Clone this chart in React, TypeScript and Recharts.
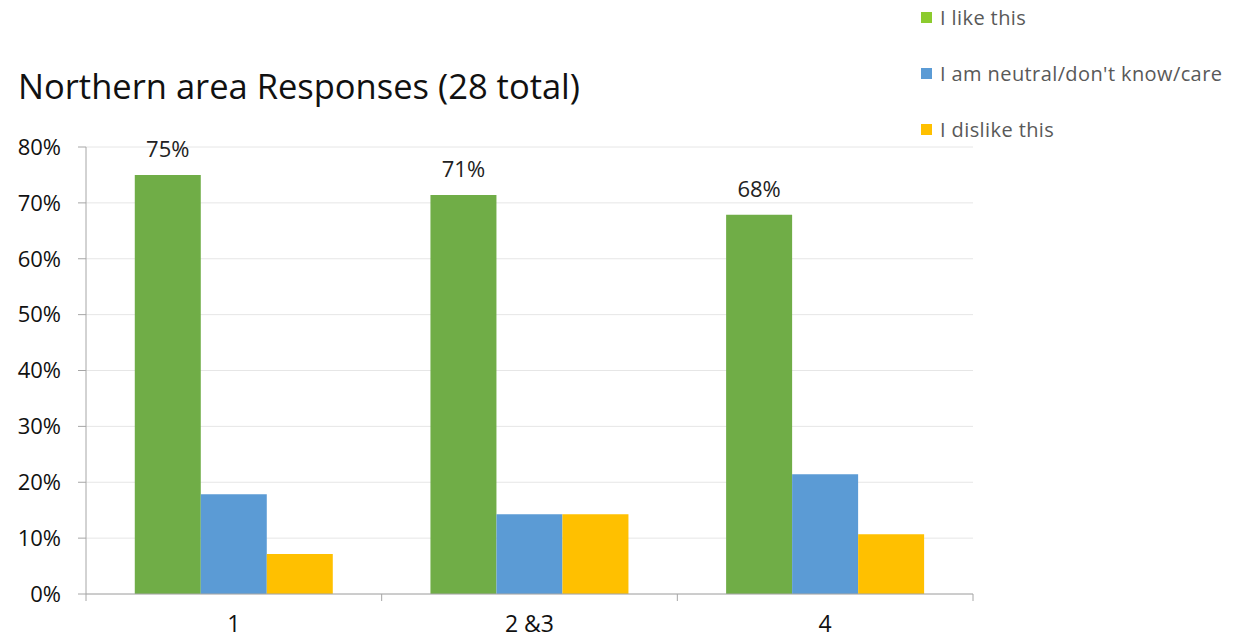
import React from "react";
import {
  BarChart,
  Bar,
  XAxis,
  YAxis,
  CartesianGrid,
  LabelList,
} from "recharts";

const categories = ["1", "2 &3", "4"];
const likeValues = [75.0, 71.43, 67.86];
const neutralValues = [17.86, 14.29, 21.43];
const dislikeValues = [7.14, 14.29, 10.71];
const yTicks = [0, 10, 20, 30, 40, 50, 60, 70, 80];

const data = categories.map((name, i) => ({
  name,
  like: likeValues[i],
  neutral: neutralValues[i],
  dislike: dislikeValues[i],
}));

const legendItems = [
  { label: "I like this", color: "#8CCB2E" },
  { label: "I am neutral/don't know/care", color: "#5B9BD5" },
  { label: "I dislike this", color: "#FFC000" },
];

const FONT = "'Open Sans', sans-serif";
const W = 1251;
const H = 639;
const PLOT_LEFT = 86;
const PLOT_RIGHT = 973;
const HALF_BAND = (PLOT_RIGHT - PLOT_LEFT) / categories.length / 2;

// recharts hands the tick y already shifted by tickSize + tickMargin (6 + 2)
function CategoryTick(props: any) {
  const { x, y, payload, index } = props;
  const axisY = y - 8;
  const last = index === categories.length - 1;
  return (
    <g>
      <line x1={x - HALF_BAND} x2={x - HALF_BAND} y1={axisY} y2={axisY + 7} stroke="#A6A6A6" />
      {last && (
        <line x1={x + HALF_BAND} x2={x + HALF_BAND} y1={axisY} y2={axisY + 7} stroke="#A6A6A6" />
      )}
      <text x={x} y={axisY + 38} textAnchor="middle" fontSize={23} fill="#111" fontFamily={FONT}>
        {payload.value}
      </text>
    </g>
  );
}

export default function App() {
  return (
    <div style={{ position: "absolute", left: 0, top: 0, width: W, height: H, background: "#fff" }}>
      <div
        style={{
          position: "absolute",
          left: 18,
          top: 64,
          fontFamily: FONT,
          fontSize: 34.5,
          lineHeight: "44px",
          color: "#111",
          whiteSpace: "nowrap",
        }}
      >
        Northern area Responses (28 total)
      </div>
      <div
        style={{
          position: "absolute",
          left: 921,
          top: 3,
          fontFamily: FONT,
          fontSize: 20,
          letterSpacing: 0.4,
          color: "#595959",
          whiteSpace: "nowrap",
        }}
      >
        {legendItems.map((it) => (
          <div key={it.label} style={{ display: "flex", alignItems: "center", height: 28, marginBottom: 28 }}>
            <span
              style={{
                width: 11,
                height: 11,
                background: it.color,
                display: "inline-block",
                marginRight: 8,
              }}
            />
            {it.label}
          </div>
        ))}
      </div>
      <BarChart
        width={W}
        height={H}
        data={data}
        margin={{ top: 147, right: W - PLOT_RIGHT, bottom: 0, left: 16 }}
        barCategoryGap="16.5%"
        barGap={0}
      >
        <CartesianGrid vertical={false} stroke="#E6E6E6" />
        <XAxis
          dataKey="name"
          height={45}
          axisLine={{ stroke: "#A6A6A6" }}
          tickLine={false}
          tick={<CategoryTick />}
          interval={0}
        />
        <YAxis
          width={70}
          domain={[0, 80]}
          ticks={yTicks}
          tickFormatter={(v: number) => `${v}%`}
          axisLine={{ stroke: "#A6A6A6" }}
          tickLine={{ stroke: "#A6A6A6" }}
          tickSize={8}
          tickMargin={17}
          tick={{ fontSize: 22, fill: "#111", fontFamily: FONT }}
          interval={0}
        />
        <Bar dataKey="like" name="I like this" fill="#70AD47" isAnimationActive={false}>
          <LabelList
            dataKey="like"
            position="top"
            offset={18}
            formatter={(v: any) => `${Math.round(Number(v))}%`}
            style={{ fontSize: 22, fill: "#222", fontFamily: FONT }}
          />
        </Bar>
        <Bar dataKey="neutral" name="I am neutral/don't know/care" fill="#5B9BD5" isAnimationActive={false} />
        <Bar dataKey="dislike" name="I dislike this" fill="#FFC000" isAnimationActive={false} />
      </BarChart>
    </div>
  );
}
